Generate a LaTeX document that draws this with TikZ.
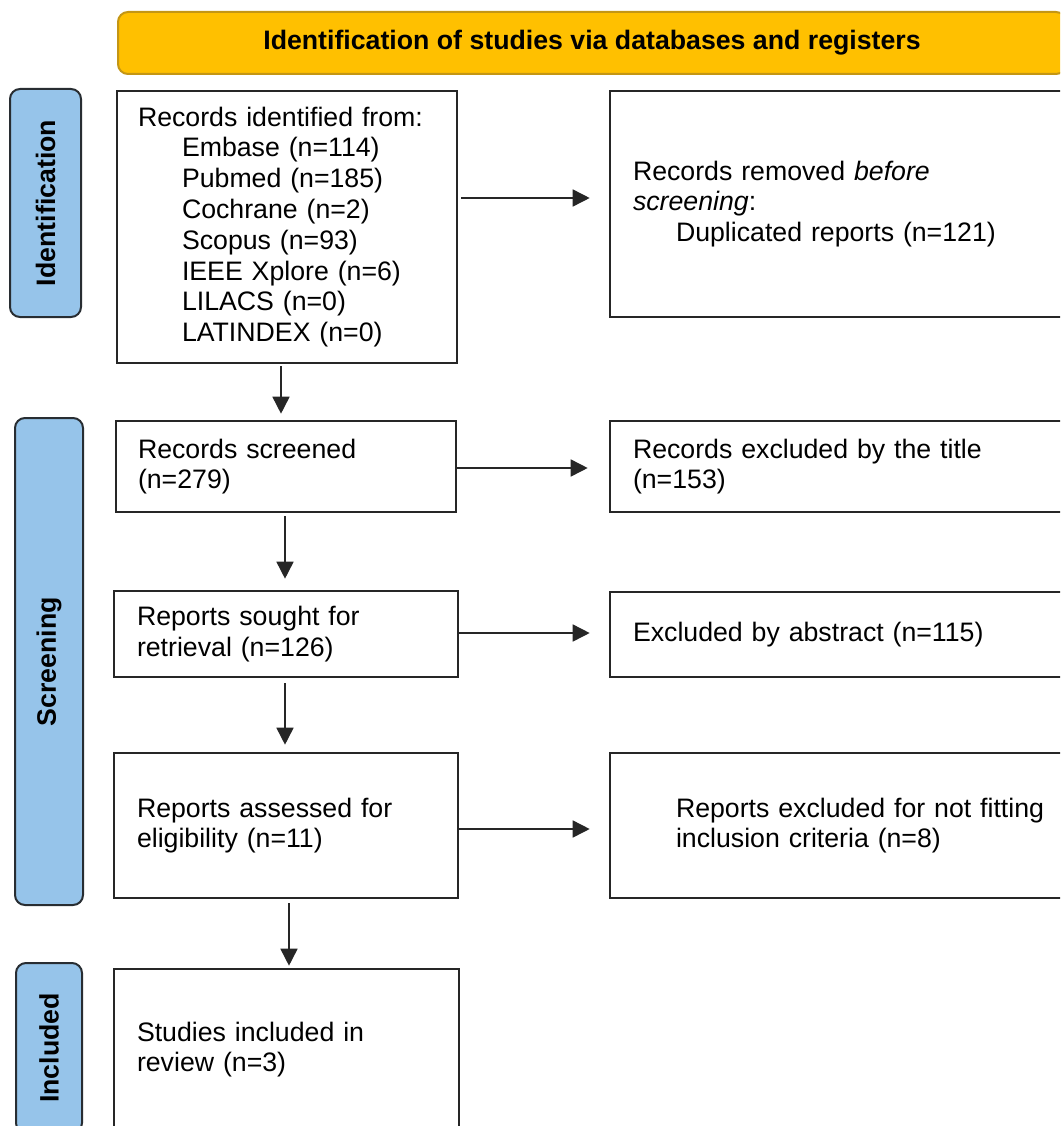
\documentclass[tikz,border=0pt]{standalone}
\usepackage{fontspec}
\setmainfont{Liberation Sans}
\usetikzlibrary{arrows.meta,calc}
\definecolor{hdrfill}{RGB}{255,192,0}
\definecolor{hdrdraw}{RGB}{196,150,20}
\definecolor{sidefill}{RGB}{150,196,234}
\definecolor{sidedraw}{RGB}{40,45,50}
\begin{document}
\begin{tikzpicture}[x=1pt,y=-1pt,
  box/.style={draw=black!85, line width=2.6pt, rectangle, inner sep=0pt, align=left,
              font=\fontsize{26.7}{30.8}\selectfont},
  side/.style={draw=sidedraw, fill=sidefill, line width=2pt, rounded corners=10pt,
               rotate=90, inner sep=0pt, font=\bfseries\fontsize{26.7}{30}\selectfont},
  hdr/.style={draw=hdrdraw, fill=hdrfill, line width=2pt, rounded corners=10pt,
              inner sep=0pt, font=\bfseries\fontsize{26.7}{30}\selectfont},
  arr/.style={-{Triangle[length=17pt,width=17pt]}, line width=1.6pt, draw=black!85},
]
\useasboundingbox (0,0) rectangle (1060,1126);
\clip (0,0) rectangle (1060,1126);

% header
\node[hdr, minimum width=948pt, minimum height=62pt] (hdr) at (592,43)
  {Identification of studies via databases and registers};

% side labels
\node[side, minimum width=228pt, minimum height=71pt] (sid) at (45.5,203) {Identification};
\node[side, minimum width=487pt, minimum height=68pt] (ssc) at (49,661.5) {Screening};
\node[side, minimum width=170pt, minimum height=66pt] (sin) at (49,1048) {Included};

% left column
\node[box, minimum width=340pt, minimum height=272pt, text width=298pt] (b1) at (287,227)
  {Records identified from:\\
   \hspace*{44pt}Embase (n=114)\\
   \hspace*{44pt}Pubmed (n=185)\\
   \hspace*{44pt}Cochrane (n=2)\\
   \hspace*{44pt}Scopus (n=93)\\
   \hspace*{44pt}IEEE Xplore (n=6)\\
   \hspace*{44pt}LILACS (n=0)\\
   \hspace*{44pt}LATINDEX (n=0)};
\node[box, minimum width=340pt, minimum height=91pt, text width=296pt] (b3) at (286,466.5)
  {Records screened\\(n=279)};
\node[box, minimum width=344pt, minimum height=86pt, text width=298pt] (b4) at (286,634)
  {Reports sought for\\retrieval (n=126)};
\node[box, minimum width=344pt, minimum height=145pt, text width=298pt] (b5) at (286,825.5)
  {Reports assessed for\\eligibility (n=11)};
\node[box, minimum width=345pt, minimum height=161pt, text width=299pt] (b6) at (286.5,1049.5)
  {Studies included in\\review (n=3)};

% right column
\node[box, minimum width=550pt, minimum height=226pt, text width=504pt] (b2) at (885,204)
  {Records removed \textit{before}\\
   \textit{screening}:\\
   \hspace*{43pt}Duplicated reports (n=121)};
\node[box, minimum width=550pt, minimum height=91pt, text width=504pt] (r2) at (885,466.5)
  {Records excluded by the title\\(n=153)};
\node[box, minimum width=550pt, minimum height=85pt, text width=504pt] (r3) at (885,634.5)
  {Excluded by abstract (n=115)};
\node[box, minimum width=550pt, minimum height=145pt, text width=418pt] (r4) at (885,825.5)
  {Reports excluded for not fitting\\inclusion criteria (n=8)};

% vertical arrows
\draw[arr, shorten <=2pt, shorten >=6pt] ([xshift=-6pt]b1.south) -- ([xshift=-6pt]b1.south |- b3.north);
\draw[arr, shorten <=3pt, shorten >=11pt] ([xshift=-1pt]b3.south) -- ([xshift=-1pt]b3.south |- b4.north);
\draw[arr, shorten <=5pt, shorten >=7pt] ([xshift=-1pt]b4.south) -- ([xshift=-1pt]b4.south |- b5.north);
\draw[arr, shorten <=4pt, shorten >=2pt] ([xshift=3pt]b5.south) -- ([xshift=3pt]b5.south |- b6.north);

% horizontal arrows
\draw[arr, shorten <=3pt, shorten >=19pt] ([yshift=29pt]b1.east) -- ([yshift=29pt]b1.east -| b2.west);
\draw[arr, shorten >=21pt] ([yshift=-1.5pt]b3.east) -- ([yshift=-1.5pt]b3.east -| r2.west);
\draw[arr, shorten >=19pt] ([yshift=1pt]b4.east) -- ([yshift=1pt]b4.east -| r3.west);
\draw[arr, shorten >=19pt] ([yshift=-3.5pt]b5.east) -- ([yshift=-3.5pt]b5.east -| r4.west);
\end{tikzpicture}
\end{document}
